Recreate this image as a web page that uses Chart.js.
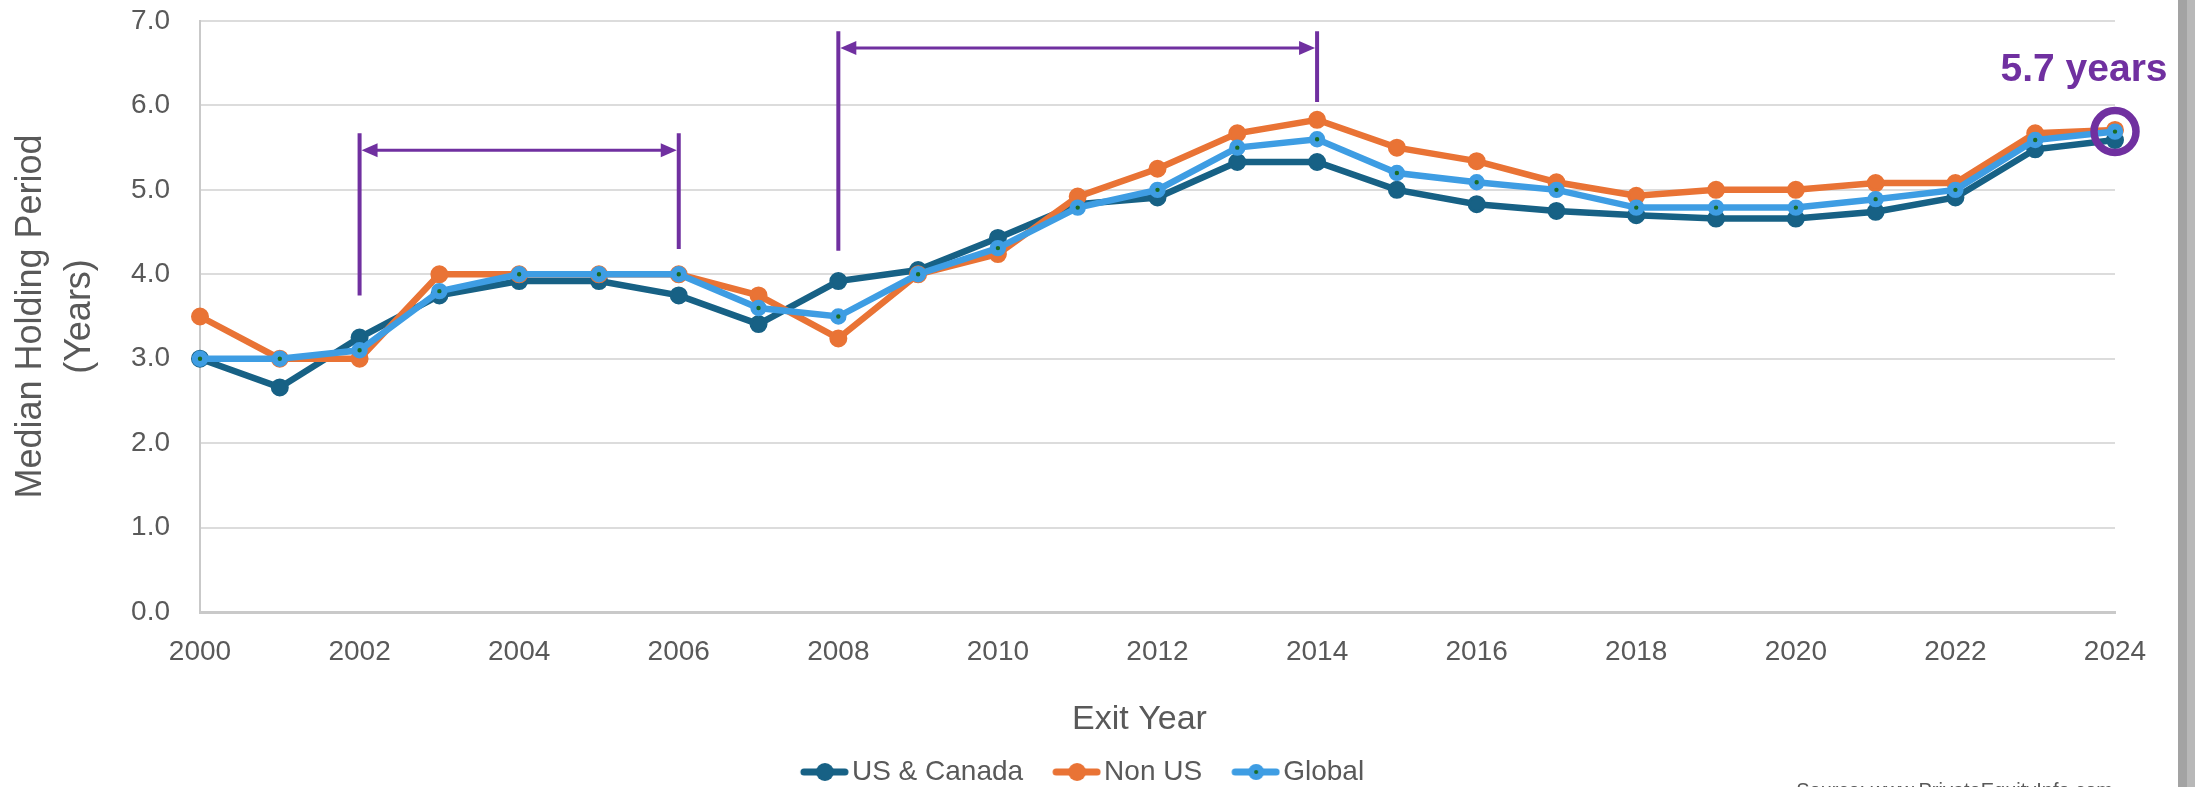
<!DOCTYPE html>
<html>
<head>
<meta charset="utf-8">
<script src="https://cdn.jsdelivr.net/npm/chart.js@4.4.1/dist/chart.umd.min.js"></script>
<style>
  html, body { margin: 0; padding: 0; background: #ffffff; overflow: hidden; }
  #wrap { position: relative; width: 2195px; height: 787px; }
  #bar1 { position: absolute; left: 2178px; top: 0; width: 9px; height: 787px; background: #a3a3a3; }
  #bar2 { position: absolute; left: 2187px; top: 0; width: 8px; height: 787px; background: #b8b8b8; }
</style>
</head>
<body>
<div id="wrap">
  <canvas id="c" width="2195" height="787"></canvas>
  <div id="bar1"></div><div id="bar2"></div>
</div>
<script>
// ---- data ----
const years = ['2000','2001','2002','2003','2004','2005','2006','2007','2008','2009','2010','2011','2012',
               '2013','2014','2015','2016','2017','2018','2019','2020','2021','2022','2023','2024'];
const usCanada = [3.00, 2.66, 3.25, 3.75, 3.92, 3.92, 3.75, 3.41, 3.92, 4.05, 4.43, 4.83, 4.91,
                  5.33, 5.33, 5.00, 4.83, 4.75, 4.70, 4.66, 4.66, 4.74, 4.91, 5.48, 5.59];
const nonUS    = [3.50, 3.00, 3.00, 4.00, 4.00, 4.00, 4.00, 3.75, 3.24, 4.00, 4.24, 4.92, 5.25,
                  5.67, 5.83, 5.50, 5.34, 5.09, 4.93, 5.00, 5.00, 5.08, 5.08, 5.67, 5.71];
const globalV  = [3.00, 3.00, 3.10, 3.80, 4.00, 4.00, 4.00, 3.60, 3.50, 4.00, 4.31, 4.79, 5.00,
                  5.50, 5.60, 5.20, 5.09, 5.00, 4.79, 4.79, 4.79, 4.89, 5.00, 5.59, 5.69];
const seriesNames = ['US & Canada', 'Non US', 'Global'];
const yTickValues = [0, 1, 2, 3, 4, 5, 6, 7];
const xTickEvery = 2;
const axisTitles = { x: 'Exit Year', y: ['Median Holding Period', '(Years)'] };
const calloutText = '5.7 years';
const sourceText = 'Source: www.PrivateEquityInfo.com';
// brackets: [startYear, endYear, leftLineFrom, rightLineFrom, top, arrowLevel]
const brackets = [
  [2002, 2006, 3.75, 4.30, 5.67, 5.47],
  [2008, 2014, 4.28, 6.04, 6.88, 6.68]
];

// ---- styles ----
const C_TEAL = '#176185', C_ORANGE = '#E97335', C_BLUE = '#3E9DE3', C_GREEN = '#196B24', C_PURPLE = '#7030A0';
const TXT = '#595959';
const FONT = "'Liberation Sans', Arial, sans-serif";

function makeSym(lineColor, fill, stroke, r, bw) {
  const W = 79, H = 24;
  const cv = document.createElement('canvas');
  cv.width = W; cv.height = H;
  const g = cv.getContext('2d');
  g.strokeStyle = lineColor; g.lineWidth = 7; g.lineCap = 'round';
  g.beginPath(); g.moveTo(W - 45, H / 2); g.lineTo(W - 4, H / 2); g.stroke();
  g.beginPath(); g.arc(W - 24, H / 2, r, 0, Math.PI * 2);
  g.fillStyle = fill; g.fill();
  if (bw) { g.lineWidth = bw; g.strokeStyle = stroke; g.stroke(); }
  return cv;
}
const syms = [
  makeSym(C_TEAL, C_TEAL, C_TEAL, 9, 0),
  makeSym(C_ORANGE, C_ORANGE, C_ORANGE, 9, 0),
  makeSym(C_BLUE, C_GREEN, C_BLUE, 5, 6)
];

const annotPlugin = {
  id: 'annot',
  afterLayout(chart) {
    if (chart.legend) { chart.legend.left += 15; chart.legend.right += 15; }
    const xs = chart.scales.x;
    if (xs && !xs._titleShifted) {
      const orig = xs.drawTitle;
      xs.drawTitle = function () {
        const l = this.left, r = this.right;
        this.left -= 18; this.right -= 18;
        orig.call(this);
        this.left = l; this.right = r;
      };
      xs._titleShifted = true;
    }
  },
  afterDatasetsDraw(chart) {
    const ctx = chart.ctx, xs = chart.scales.x, ys = chart.scales.y;
    const px = yr => xs.getPixelForValue(yr - 2000);
    ctx.save();
    ctx.strokeStyle = C_PURPLE; ctx.fillStyle = C_PURPLE;
    brackets.forEach(b => {
      const x1 = px(b[0]), x2 = px(b[1]);
      const yt = ys.getPixelForValue(b[4]);
      ctx.lineWidth = 4;
      ctx.beginPath();
      ctx.moveTo(x1, ys.getPixelForValue(b[2])); ctx.lineTo(x1, yt);
      ctx.moveTo(x2, ys.getPixelForValue(b[3])); ctx.lineTo(x2, yt);
      ctx.stroke();
      const ya = ys.getPixelForValue(b[5]);
      const L = 16, hw = 7;
      ctx.lineWidth = 3;
      ctx.beginPath(); ctx.moveTo(x1 + L - 2, ya); ctx.lineTo(x2 - L + 2, ya); ctx.stroke();
      ctx.beginPath(); ctx.moveTo(x1 + 2, ya); ctx.lineTo(x1 + 2 + L, ya - hw); ctx.lineTo(x1 + 2 + L, ya + hw); ctx.closePath(); ctx.fill();
      ctx.beginPath(); ctx.moveTo(x2 - 2, ya); ctx.lineTo(x2 - 2 - L, ya - hw); ctx.lineTo(x2 - 2 - L, ya + hw); ctx.closePath(); ctx.fill();
    });
    // highlight ring around latest Global point
    const last = globalV.length - 1;
    const cx = px(2000 + last), cy = ys.getPixelForValue(globalV[last]);
    ctx.lineWidth = 7.5;
    ctx.beginPath(); ctx.arc(cx, cy, 21, 0, Math.PI * 2); ctx.stroke();
    ctx.font = "bold 39px " + FONT;
    ctx.textAlign = 'center'; ctx.textBaseline = 'alphabetic';
    ctx.fillText(calloutText, cx - 31, cy - 51);
    ctx.restore();
  },
  afterDraw(chart) {
    const ctx = chart.ctx;
    ctx.save();
    ctx.font = "20px " + FONT;
    ctx.fillStyle = TXT; ctx.textAlign = 'right'; ctx.textBaseline = 'alphabetic';
    ctx.fillText(sourceText, chart.chartArea.right - 2, chart.height + 10);
    ctx.restore();
  }
};

const mkDs = (label, data, color, order, isGlobal) => ({
  label, data, order,
  borderColor: color, backgroundColor: color,
  borderWidth: 6.5, tension: 0,
  pointRadius: isGlobal ? 5.2 : 7.5,
  pointBorderWidth: isGlobal ? 6 : 3,
  pointBackgroundColor: isGlobal ? C_GREEN : color,
  pointBorderColor: color,
  pointHoverRadius: isGlobal ? 5.2 : 7.5
});

new Chart(document.getElementById('c'), {
  type: 'line',
  data: {
    labels: years,
    datasets: [
      mkDs(seriesNames[0], usCanada, C_TEAL, 2, false),
      mkDs(seriesNames[1], nonUS, C_ORANGE, 1, false),
      mkDs(seriesNames[2], globalV, C_BLUE, 0, true)
    ]
  },
  options: {
    responsive: false,
    animation: false,
    events: [],
    layout: { padding: { left: 0, right: 80, top: 21, bottom: -9 } },
    plugins: {
      tooltip: { enabled: false },
      legend: {
        position: 'bottom',
        labels: {
          usePointStyle: true,
          pointStyleWidth: 57,
          padding: 10,
          color: TXT,
          font: { family: FONT, size: 28 },
          generateLabels: (chart) => chart.data.datasets.map((ds, i) => ({
            text: ds.label, fillStyle: ds.borderColor, strokeStyle: ds.borderColor,
            lineWidth: 0, pointStyle: syms[i], hidden: false, datasetIndex: i, fontColor: TXT
          }))
        }
      }
    },
    scales: {
      x: {
        type: 'category',
        offset: false,
        grid: { display: false, drawTicks: false },
        border: { display: true, color: '#c9c9c9', width: 3 },
        ticks: {
          autoSkip: false, maxRotation: 0, padding: 23, color: TXT,
          font: { family: FONT, size: 28 },
          callback: (v, i) => (i % xTickEvery === 0 ? years[i] : '')
        },
        title: {
          display: true, text: axisTitles.x, color: TXT,
          font: { family: FONT, size: 34 }, padding: { top: 0, bottom: 7.6 }
        },
        afterFit: (s) => { s.height = 136; }
      },
      y: {
        min: 0, max: 7,
        afterBuildTicks: (s) => { s.ticks = yTickValues.map(v => ({ value: v })); },
        grid: { color: '#dcdcdc', lineWidth: 2, drawTicks: true, tickLength: 30, tickColor: 'rgba(0,0,0,0)' },
        border: { display: true, color: '#c9c9c9', width: 2 },
        ticks: {
          padding: 0, color: TXT,
          font: { family: FONT, size: 28 },
          callback: (v) => Number(v).toFixed(1)
        },
        title: {
          display: true, text: axisTitles.y, color: TXT,
          font: { family: FONT, size: 36, lineHeight: 1.36 }, padding: { top: 6.5, bottom: 0 }
        },
        afterFit: (s) => { s.width = 200; }
      }
    }
  },
  plugins: [annotPlugin]
});
</script>
</body>
</html>
